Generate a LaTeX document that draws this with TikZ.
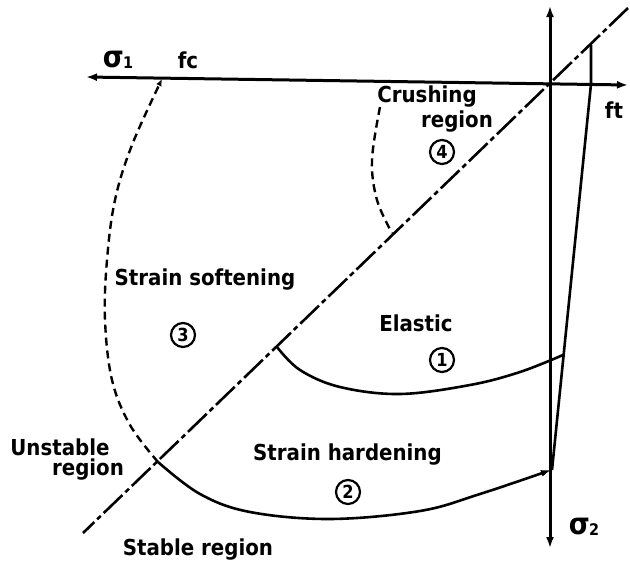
\documentclass[tikz,border=0pt]{standalone}
\usepackage{fontspec}
\newfontfamily\lblfont{DejaVu Sans Condensed}
\usetikzlibrary{arrows.meta}
\begin{document}
\begin{tikzpicture}[x=1pt,y=-1pt,
  axis/.style={line width=3pt},
  curve/.style={line width=2.6pt},
  dsh/.style={line width=2.4pt, dash pattern=on 8pt off 5pt},
  diag/.style={line width=2.6pt, dash pattern=on 26pt off 4pt on 5pt off 4pt},
  lbl/.style={font=\lblfont\bfseries\fontsize{22}{24}\selectfont, inner sep=0pt},
  num/.style={draw, circle, line width=2.2pt, minimum size=24pt, inner sep=0pt, font=\lblfont\bfseries\fontsize{18}{18}\selectfont}]
\useasboundingbox (0,0) rectangle (630,565);
% coordinates
\coordinate (L) at (86,77);
\coordinate (R) at (628,85);
\coordinate (T) at (550,6);
\coordinate (B) at (550,548);
\coordinate (D1) at (628,8);
\coordinate (D2) at (83,533);
\coordinate (P) at (591,44.5);
\coordinate (Q) at (591,84);
\coordinate (S) at (552,470);
\coordinate (E0) at (277,347);
\coordinate (E1) at (563,355);
\coordinate (H0) at (158,462);
\coordinate (H1) at (551,470);
\coordinate (F) at (162,79);
\coordinate (C0) at (380,107);
\coordinate (C1) at (392,233);
% axes
\draw[axis, {Latex[length=11pt,width=8pt]}-{Latex[length=11pt,width=8pt]}] (L) -- (R);
\draw[axis, {Latex[length=11pt,width=8pt]}-{Latex[length=11pt,width=8pt]}] (B) -- (T);
% diagonal
\draw[diag] (D1) -- (D2);
% tension cut-off
\draw[curve] (P) -- (Q) -- (S);
% elastic limit
\draw[curve] plot[smooth, tension=0.6] coordinates {(E0) (300,370) (340,387) (400,394) (470,385) (520,372) (E1)};
% strain hardening limit
\draw[curve, -{Latex[length=10pt,width=7pt]}] plot[smooth, tension=0.6] coordinates {(H0) (200,494) (250,512) (330,519) (420,511) (480,494) (H1)};
% strain softening boundary
\draw[dsh, -{Latex[length=7pt,width=6pt]}] plot[smooth, tension=0.6] coordinates {(H0) (130,425) (112,380) (105,320) (107,260) (115,200) (132,145) (F)};
% crushing boundary
\draw[dsh] plot[smooth, tension=0.6] coordinates {(C0) (372,160) (377,200) (C1)};
% labels
\node[lbl] (s1) at (118,60) {{\fontsize{30}{30}\selectfont σ}\kern-1pt\raisebox{-1pt}{\fontsize{16}{16}\selectfont 1}};
\node[lbl] (fc) at (188,60) {fc};
\node[lbl] (ft) at (614,110) {ft};
\node[lbl] (s2) at (584,527) {{\fontsize{30}{30}\selectfont σ}\kern-1pt\raisebox{-1pt}{\fontsize{16}{16}\selectfont 2}};
\node[lbl] (cr) at (427,97) {Crushing};
\node[lbl] (crr) at (457,122) {region};
\node[num] (n4) at (442,152) {4};
\node[lbl] (ss) at (205,280) {Strain softening};
\node[num] (n3) at (183,335) {3};
\node[lbl] (el) at (416,323) {Elastic};
\node[num] (n1) at (442,360) {1};
\node[lbl, anchor=west] (sh) at (253,455) {Strain hardening};
\node[num] (n2) at (348,492) {2};
\node[lbl] (us) at (60,447) {Unstable};
\node[lbl] (usr) at (88,470) {region};
\node[lbl] (st) at (198,550) {Stable region};
\end{tikzpicture}
\end{document}
